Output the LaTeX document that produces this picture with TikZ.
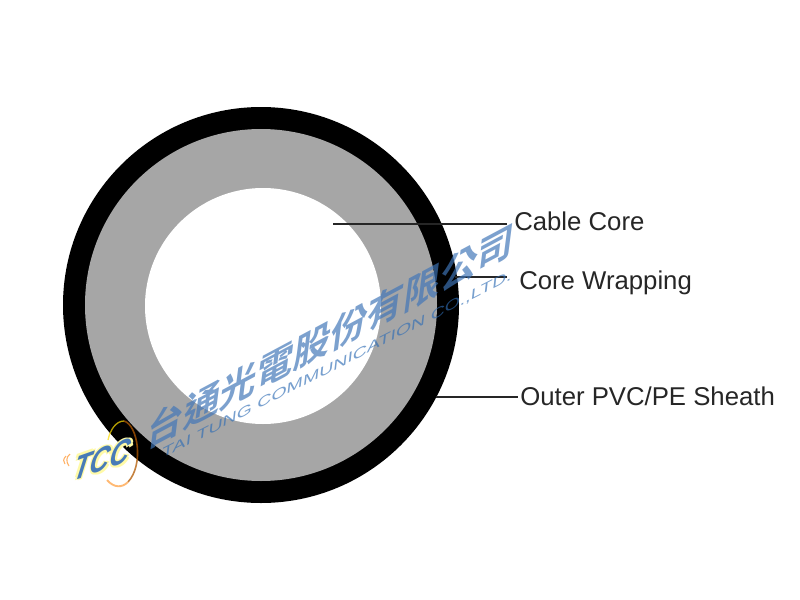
\documentclass[tikz,border=0pt]{standalone}
\usepackage{fontspec}
\usetikzlibrary{shapes.geometric}
\setmainfont{Liberation Sans}
\newfontfamily\cjk{Noto Sans CJK TC Bold}
\definecolor{coregray}{HTML}{A6A6A6}
\definecolor{wmblue}{HTML}{3F75B8}
\definecolor{wmdark}{HTML}{2F6DB5}
\tikzset{
  lbl/.style={anchor=base west,inner sep=0pt,font=\fontsize{19.3pt}{21pt}\selectfont,text=black!85},
  leader/.style={draw=black!85,line width=0.9pt},
  wmcn/.style={text=wmblue,opacity=0.68,inner sep=0pt,cm={0.88,0.47,0.12,0.95,(0,0)},font=\cjk\fontsize{31.3pt}{33pt}\selectfont},
  wmen/.style={text=wmdark,opacity=0.65,inner sep=0pt,cm={0.89,0.456,0.1,0.9,(0,0)},font=\fontsize{12.2pt}{14pt}\selectfont},
  logotext/.style={inner sep=0pt,cm={0.85,0.3,0.2,1.1,(0,0)},font=\bfseries\itshape\fontsize{24pt}{26pt}\selectfont}
}
\begin{document}
\begin{tikzpicture}[x=0.75pt,y=-0.75pt]
\useasboundingbox[fill=white] (0,0) rectangle (800,600);
\node[circle,fill=black,minimum size=297pt,inner sep=0pt] (sheath) at (261,305) {};
\node[circle,fill=coregray,minimum size=264pt,inner sep=0pt] (wrap) at (261,305) {};
\node[circle,fill=white,minimum size=177pt,inner sep=0pt] (core) at (263,306) {};

\node[lbl] (l1) at (514,230) {Cable Core};
\node[lbl] (l2) at (519,289) {Core Wrapping};
\node[lbl] (l3) at (520,405) {Outer PVC/PE Sheath};

\coordinate (c1) at (333,224);
\coordinate (e1) at (507,224);
\coordinate (c2) at (455,277);
\coordinate (e2) at (507,277);
\coordinate (c3) at (436,397);
\coordinate (e3) at (518,397);
\draw[leader] (c1) -- (e1);
\draw[leader] (c2) -- (e2);
\draw[leader] (c3) -- (e3);

\node[wmcn] (wm1) at (331,336) {台通光電股份有限公司};
\node[wmen] (wm2) at (337,365) {\scalebox{1.35}[1]{TAI TUNG COMMUNICATION CO.,LTD.}};

\draw[orange!70!black,opacity=0.75,line width=1.2pt] (124,421) .. controls (138,425) and (144,465) .. (128,482);
\draw[orange!55,line width=1.4pt] (128,482) .. controls (122,488) and (114,488) .. (107,480);
\draw[yellow!80!orange,opacity=0.7,line width=1pt] (108,440) .. controls (110,430) and (116,421) .. (124,421);
\draw[orange!60,line width=0.8pt] (70,454) .. controls (66,457) and (66,462) .. (69,466);
\draw[orange!60,line width=0.8pt] (66,456) .. controls (63,459) and (63,462) .. (65,464);
\node[logotext,text=yellow!35] (halo1) at (101,458) {TCC};
\node[logotext,text=yellow!35] (halo2) at (104,458) {TCC};
\node[logotext,text=yellow!35] (halo3) at (101,461) {TCC};
\node[logotext,text=yellow!35] (halo4) at (104,461) {TCC};
\node[logotext,text=wmblue,opacity=0.95] (logo) at (102.5,459.5) {TCC};
\end{tikzpicture}
\end{document}
